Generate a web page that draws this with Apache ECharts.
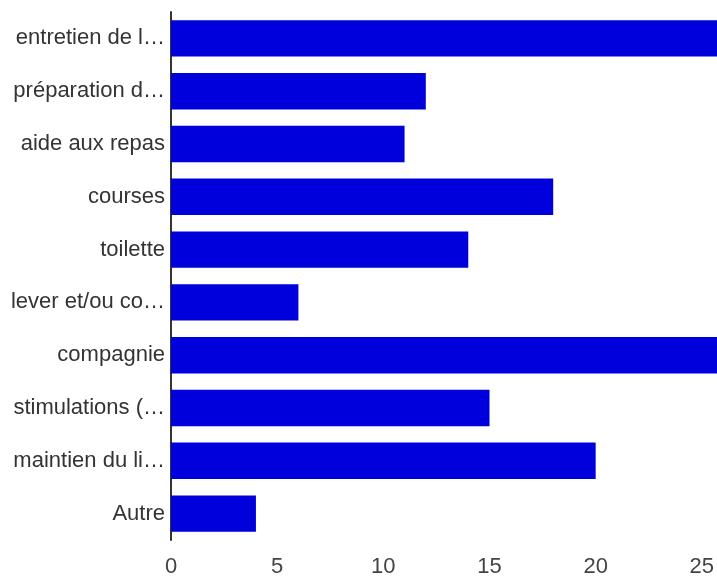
<!DOCTYPE html>
<html>
<head>
<meta charset="utf-8">
<script src="https://cdn.jsdelivr.net/npm/echarts@6/dist/echarts.min.js"></script>
<style>html,body{margin:0;padding:0;background:#fff}#c{width:717px;height:577px}</style>
</head>
<body>
<div id="c"></div>
<script>
var categories = ["entretien de l…","préparation d…","aide aux repas","courses","toilette","lever et/ou co…","compagnie","stimulations (…","maintien du li…","Autre"];
var values = [26,12,11,18,14,6,26,15,20,4];
var xTicks = [0,5,10,15,20,25,30];
var FONT = "'Liberation Sans', Arial, sans-serif";

var chart = echarts.init(document.getElementById('c'), null, {renderer:'canvas'});
chart.setOption({
  animation:false,
  grid:{left:171, top:12, width:637, height:528, containLabel:false, outerBoundsMode:'none'},
  xAxis:{
    type:'value', min:xTicks[0], max:xTicks[xTicks.length-1], interval:5,
    axisLine:{show:false}, axisTick:{show:false}, splitLine:{show:false},
    axisLabel:{color:'#444', fontSize:22, fontFamily:FONT, margin:16}
  },
  yAxis:{
    type:'category', data:categories, inverse:true,
    axisLine:{show:true, lineStyle:{color:'#333', width:2}},
    axisTick:{show:false}, splitLine:{show:false},
    axisLabel:{color:'#333', fontSize:22, fontFamily:FONT, margin:6}
  },
  series:[{
    type:'bar', data:values, barWidth:'69%',
    itemStyle:{color:'#0000dc'}
  }]
});
</script>
</body>
</html>
